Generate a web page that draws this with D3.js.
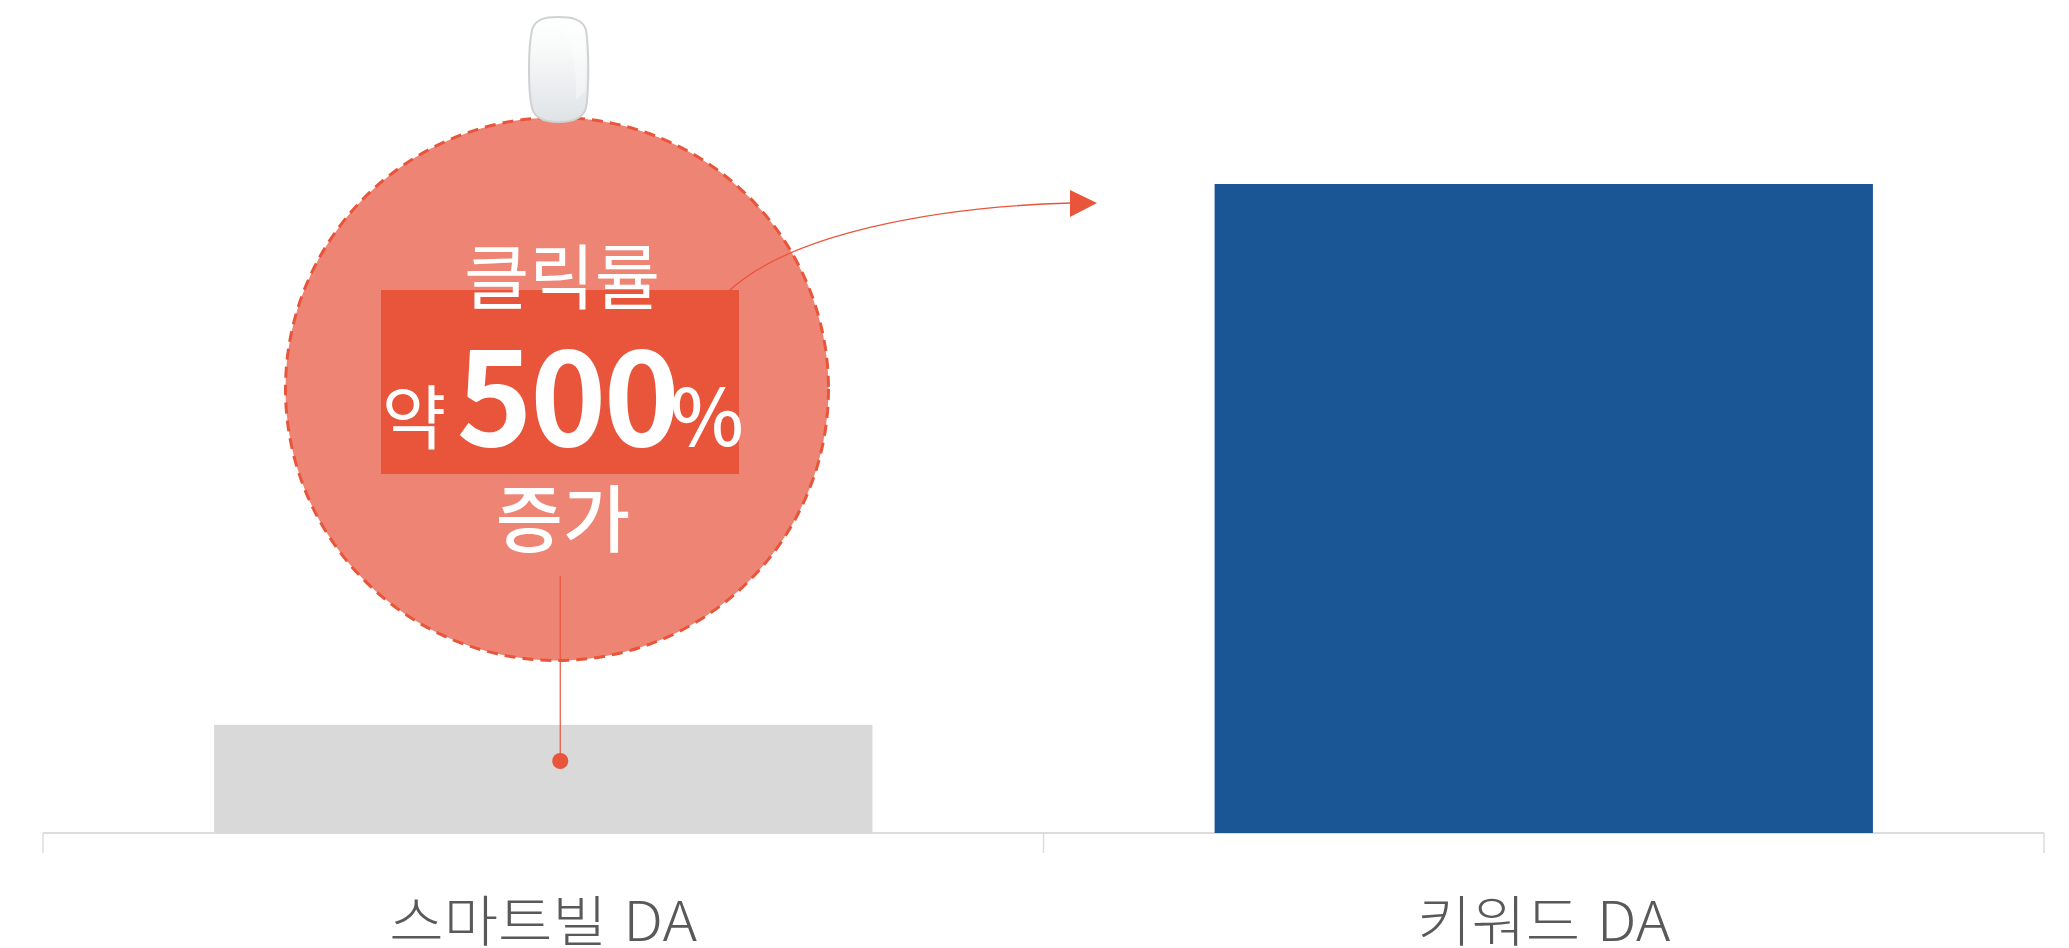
<!DOCTYPE html>
<html lang="ko">
<head>
<meta charset="utf-8">
<style>
html,body{margin:0;padding:0;background:#fff;overflow:hidden}
svg{display:block}
text{font-family:"Noto Sans CJK KR","Noto Sans",sans-serif}
</style>
<script src="https://cdn.jsdelivr.net/npm/d3@7"></script>
</head>
<body>
<svg id="chart" width="2069" height="948"></svg>
<script>
const categories = ["스마트빌 DA", "키워드 DA"];
const values = [1, 6];
const barColors = ["#d9d9d9", "#1a5596"];
const accent = "#e9553b";

const svg = d3.select("#chart");
const x = d3.scaleBand().domain(categories).range([43, 2044]).paddingInner(0.342).paddingOuter(0.171);
const y = d3.scaleLinear().domain([0, 6]).range([833, 184]);

// axis: baseline with ticks at category boundaries
const edges = [43, 43 + x.step(), 43 + 2 * x.step()];
const axis = svg.append("g").attr("fill", "none").attr("stroke", "#dcdcdc");
axis.append("line").attr("x1", edges[0]).attr("x2", edges[2]).attr("y1", y(0)).attr("y2", y(0)).attr("stroke-width", 2);
axis.selectAll("line.tick").data(edges).join("line").attr("class", "tick")
  .attr("x1", d => d).attr("x2", d => d).attr("y1", y(0)).attr("y2", 853).attr("stroke-width", 1.5);

// bars
svg.selectAll("rect.bar").data(categories).join("rect").attr("class", "bar")
  .attr("x", d => x(d)).attr("width", x.bandwidth())
  .attr("y", (d, i) => y(values[i])).attr("height", (d, i) => y(0) - y(values[i]))
  .attr("fill", (d, i) => barColors[i]);

// category labels (slightly wide setting, as in the reference)
svg.selectAll("text.cat").data(categories).join("text").attr("class", "cat")
  .attr("transform", d => `translate(${x(d) + x.bandwidth() / 2},941) scale(1.075,1)`)
  .attr("text-anchor", "middle").attr("font-size", 55).attr("font-weight", 300)
  .attr("fill", "#595959").text(d => d);

// callout circle
const cx = 557, cy = 389, r = 271.5;
svg.append("circle").attr("cx", cx).attr("cy", cy).attr("r", r)
  .attr("fill", "#ee8574").attr("stroke", accent).attr("stroke-width", 3).attr("stroke-dasharray", "11 7");

// highlight band
svg.append("rect").attr("x", 381).attr("y", 290).attr("width", 358).attr("height", 184).attr("fill", accent);

// leader from bar to circle
const dotX = x(categories[0]) + x.bandwidth() / 2 + 17;
svg.append("line").attr("x1", dotX).attr("x2", dotX).attr("y1", 576).attr("y2", 761).attr("stroke", accent).attr("stroke-width", 1.2);
svg.append("circle").attr("cx", dotX).attr("cy", 761).attr("r", 8).attr("fill", accent);

// arrow toward the second bar
svg.append("path").attr("d", "M730,290 C790,235 930,207 1071,203").attr("fill", "none").attr("stroke", accent).attr("stroke-width", 1.3);
svg.append("path").attr("d", "M1070,190 L1097,203 L1070,217 Z").attr("fill", accent);

// callout text
const t = svg.append("g").attr("fill", "#fff");
t.append("text").attr("x", 562).attr("y", 303).attr("text-anchor", "middle").attr("font-size", 71).text("클릭률");
t.append("text").attr("x", 414).attr("y", 444).attr("text-anchor", "middle").attr("font-size", 70).text("약");
t.append("text").attr("x", 567).attr("y", 446).attr("text-anchor", "middle").attr("font-size", 129).attr("font-weight", 700).attr("letter-spacing", -2.5).text("500");
t.append("text").attr("x", 707).attr("y", 446).attr("text-anchor", "middle").attr("font-size", 78).attr("font-weight", 500).text("%");
t.append("text").attr("x", 563).attr("y", 546).attr("text-anchor", "middle").attr("font-size", 73).attr("font-weight", 500).text("증가");

// mouse icon
const defs = svg.append("defs");
const g = defs.append("linearGradient").attr("id", "mouseFill").attr("x1", 0).attr("y1", 0).attr("x2", 0).attr("y2", 1);
g.append("stop").attr("offset", "0%").attr("stop-color", "#ffffff");
g.append("stop").attr("offset", "35%").attr("stop-color", "#f7f8f8");
g.append("stop").attr("offset", "100%").attr("stop-color", "#dfe3e6");
svg.append("path")
  .attr("d", "M558,17 C545,17 535,19 532,30 C528,48 528,92 532,108 C535,119 545,122 558,122 C571,122 583,119 586,108 C589,92 589,48 586,30 C583,19 571,17 558,17 Z")
  .attr("fill", "url(#mouseFill)").attr("stroke", "#cfd2d3").attr("stroke-width", 2);
svg.append("path").attr("d", "M558,30 C572,40 577,66 576,100 L585,92 C587,70 587,48 583,32 C578,21 566,21 558,30 Z").attr("fill", "#fff").attr("opacity", 0.35);
</script>
</body>
</html>
